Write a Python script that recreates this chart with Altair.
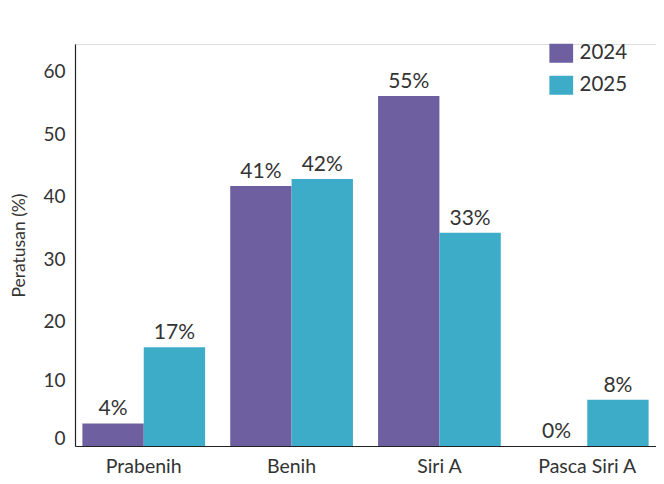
import altair as alt
import pandas as pd

categories = ["Prabenih", "Benih", "Siri A", "Pasca Siri A"]
years = ["2024", "2025"]
values_2024 = [3.6, 41.6, 56.0, 0.0]
values_2025 = [15.8, 42.7, 34.1, 7.4]
labels_2024 = ["4%", "41%", "55%", "0%"]
labels_2025 = ["17%", "42%", "33%", "8%"]
colors = ["#6e60a0", "#3dacc8"]

rows = []
for i, c in enumerate(categories):
    rows.append({"cat": c, "year": "2024", "value": values_2024[i], "label": labels_2024[i]})
    rows.append({"cat": c, "year": "2025", "value": values_2025[i], "label": labels_2025[i]})
df = pd.DataFrame(rows)

FONT = "Lato"
TXT = "#333333"

x = alt.X("cat:N", sort=categories, title=None,
          scale=alt.Scale(paddingInner=0.17, paddingOuter=0.05),
          axis=alt.Axis(labelAngle=0, labelFontSize=19.5, labelFont=FONT, labelColor=TXT,
                        ticks=False, labelPadding=11, domainColor="#222222", domainWidth=1.2))
y = alt.Y("value:Q", title="Peratusan (%)",
          scale=alt.Scale(domain=[0, 64.3], nice=False),
          axis=alt.Axis(values=[0, 10, 20, 30, 40, 50, 60], grid=False, ticks=False,
                        labelFontSize=19, labelFont=FONT, labelColor=TXT, labelPadding=10,
                        labelOffset=alt.ExprRef("datum.value == 0 ? -8 : (datum.value == 10 ? -3 : 1)"),
                        titleFontSize=17.5, titleFont=FONT, titleColor=TXT, titleFontWeight="normal",
                        titlePadding=14, domainColor="#222222", domainWidth=1.2))
color = alt.Color("year:N", scale=alt.Scale(domain=years, range=colors),
                  legend=alt.Legend(title=None, orient="none", legendX=476, legendY=-1,
                                    symbolType="M-1.25,-1L1.25,-1L1.25,1L-1.25,1Z",
                                    symbolSize=361, symbolStrokeWidth=0,
                                    symbolOpacity=1, labelFontSize=20.5, labelFont=FONT,
                                    labelColor=TXT, rowPadding=11, labelOffset=8))

bars = alt.Chart(df).mark_bar(opacity=1).encode(
    x=x, y=y, xOffset=alt.XOffset("year:N", sort=years), color=color)
text = alt.Chart(df).mark_text(baseline="bottom", dy=-4, fontSize=21, font=FONT, color=TXT).encode(
    x=alt.X("cat:N", sort=categories), y="value:Q",
    xOffset=alt.XOffset("year:N", sort=years), text="label:N")

chart = (bars + text).properties(
    width=581, height=402,
    autosize=alt.AutoSizeParams(type="none"),
    padding={"left": 67, "top": 36, "right": 0, "bottom": 30},
).configure_view(stroke=None).configure(background="white")

chart.save("out.html", embed_options={"renderer": "svg", "actions": False})
